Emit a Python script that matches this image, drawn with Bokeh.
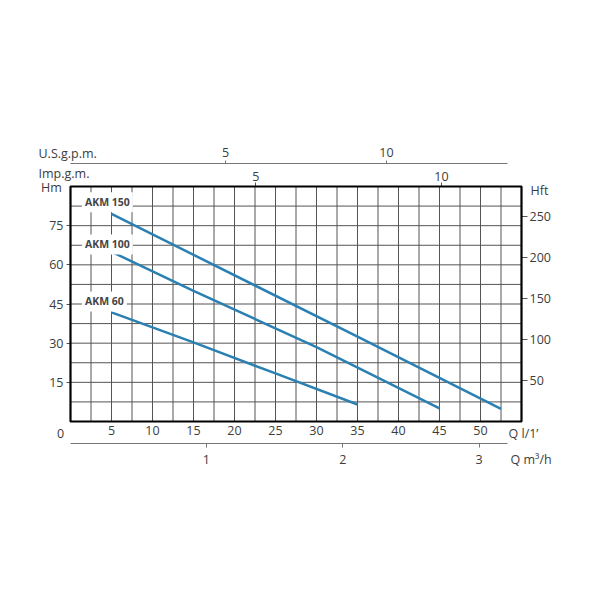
from bokeh.plotting import figure
from bokeh.models import Range1d, LinearAxis, FixedTicker, Label, BoxAnnotation
from bokeh.embed import file_html
from bokeh.resources import INLINE

# ---- data ----
q_akm150 = [5, 35, 52.5]
h_akm150 = [79.5, 32.5, 4.8]
q_akm100 = [5, 15, 30, 45]
h_akm100 = [65, 50, 28.5, 5]
q_akm60 = [5, 15, 25, 35]
h_akm60 = [41.8, 30.3, 18.4, 6.5]

series_names = ["AKM 150", "AKM 100", "AKM 60"]
label_y = [84, 67.8, 46]

q_ticks = [5, 10, 15, 20, 25, 30, 35, 40, 45, 50]
hm_ticks = [15, 30, 45, 60, 75]
hft_ticks = [50, 100, 150, 200, 250]
imp_ticks = [5, 10]
us_ticks = [5, 10]
m3h_ticks = [1, 2, 3]
vgrid = [2.5 * i for i in range(1, 22)]
hgrid = [7.5 * i for i in range(1, 12)]

# chart box in data units
Q_MAX, H_MAX = 55, 90

FONT = "Open Sans"
TXT = "#3c3c3c"
BLUE = "#2b80b2"
W, H = 584, 584

# pixel geometry of the chart box on the canvas
BX0, BX1, BY_TOP, BY_BOT = 70, 521, 186, 421
SX = (BX1 - BX0) / Q_MAX          # px per l/min
SY = (BY_BOT - BY_TOP) / H_MAX    # px per m


def xr(px_per_unit, zero_px):
    return Range1d((0 - zero_px) / px_per_unit, (W - zero_px) / px_per_unit)


def yr(px_per_unit, zero_px):
    return Range1d((zero_px - H) / px_per_unit, zero_px / px_per_unit)


def X(px):
    return (px - BX0) / SX


def Y(py):
    return (BY_BOT - py) / SY


p = figure(width=W, height=H, title=None,
           x_range=xr(SX, BX0), y_range=yr(SY, BY_BOT),
           output_backend="svg", toolbar_location=None,
           x_axis_location=None, y_axis_location=None,
           min_border=0)
p.outline_line_color = None
p.background_fill_color = "white"
p.border_fill_color = "white"
p.xgrid.visible = False
p.ygrid.visible = False

p.extra_x_ranges = {"imp": xr(37.14, 69.5), "us": xr(32.2, 64),
                    "m3h": xr(136.3, 69.6)}
p.extra_y_ranges = {"hft": yr(0.82, 420.5)}

# grid lines inside the box
p.segment(x0=vgrid, x1=vgrid, y0=[0] * len(vgrid), y1=[H_MAX] * len(vgrid),
          line_color="#555555", line_width=1)
p.segment(x0=[0] * len(hgrid), x1=[Q_MAX] * len(hgrid), y0=hgrid, y1=hgrid,
          line_color="#555555", line_width=1)

# box
p.add_layout(BoxAnnotation(left=0, right=Q_MAX, bottom=0, top=H_MAX,
                           fill_alpha=0, line_color="black", line_alpha=1,
                           line_width=2.2))


def style(ax, line=None, tick_out=0, standoff=4, tick_color="#555"):
    ax.axis_line_color = line
    ax.axis_line_width = 1
    ax.major_tick_out = tick_out
    ax.major_tick_in = 0
    ax.major_tick_line_color = tick_color if tick_out else None
    ax.minor_tick_line_color = None
    ax.major_label_standoff = standoff
    ax.major_label_text_font = FONT
    ax.major_label_text_font_size = "12.5px"
    ax.major_label_text_color = TXT


left = LinearAxis(ticker=FixedTicker(ticks=hm_ticks), fixed_location=0)
style(left, tick_out=4, standoff=3)
p.add_layout(left, "left")

right = LinearAxis(y_range_name="hft", ticker=FixedTicker(ticks=hft_ticks),
                   fixed_location=Q_MAX)
style(right, tick_out=6, standoff=2)
p.add_layout(right, "right")

bottom = LinearAxis(ticker=FixedTicker(ticks=q_ticks), fixed_location=0)
style(bottom, tick_out=0, standoff=4)
p.add_layout(bottom, "below")

m3h = LinearAxis(x_range_name="m3h", ticker=FixedTicker(ticks=m3h_ticks),
                 bounds=(0, 3.206), fixed_location=Y(443))
style(m3h, line="#777", tick_out=4, standoff=7, tick_color="#777")
p.add_layout(m3h, "below")

imp = LinearAxis(x_range_name="imp", ticker=FixedTicker(ticks=imp_ticks),
                 fixed_location=H_MAX)
style(imp, tick_out=4, standoff=2, tick_color="#555")
p.add_layout(imp, "above")

us = LinearAxis(x_range_name="us", ticker=FixedTicker(ticks=us_ticks),
                bounds=(0.19, 13.76), fixed_location=Y(163))
style(us, line="#777", tick_out=3, standoff=4, tick_color="#777")
p.add_layout(us, "above")

# curves
for q, h in [(q_akm150, h_akm150), (q_akm100, h_akm100), (q_akm60, h_akm60)]:
    p.line(q, h, line_color=BLUE, line_width=2.5)

# series labels
for name, ly in zip(series_names, label_y):
    p.add_layout(Label(x=1.4, y=ly, text=name, text_font=FONT,
                       text_font_size="10.5px", text_font_style="bold",
                       text_color="#454545", text_baseline="middle", text_align="left",
                       background_fill_color="white", padding=3))


def lab(xp, yp, t, align="left"):
    p.add_layout(Label(x=X(xp), y=Y(yp), text=t, text_font=FONT,
                       text_font_size="12.5px", text_color=TXT,
                       text_baseline="middle", text_align=align))


lab(51, 187, "Hm", "center")
lab(539, 190, "Hft", "center")
lab(38, 173, "Imp.g.m.")
lab(38, 153, "U.S.g.p.m.")
lab(60, 433, "0", "center")
lab(508, 433, "Q l/1’")
lab(510, 459, "Q m³/h")

open("out.html", "w").write(file_html(p, INLINE))
